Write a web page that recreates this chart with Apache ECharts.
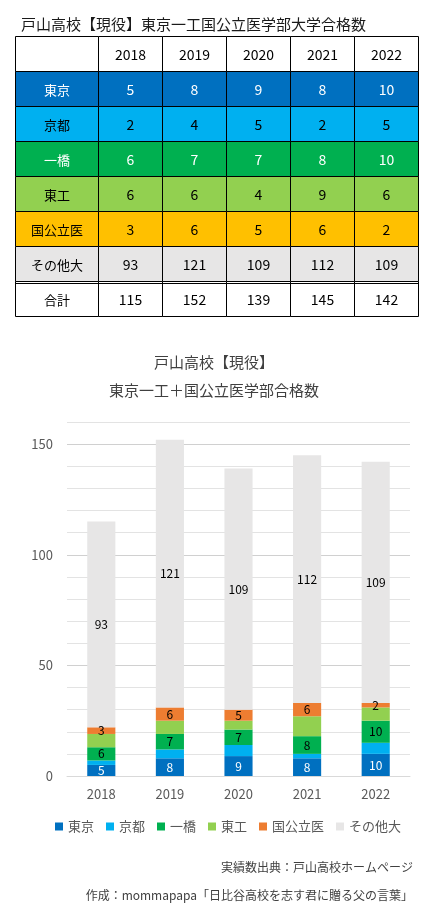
<!DOCTYPE html>
<html>
<head>
<meta charset="utf-8">
<script src="https://cdn.jsdelivr.net/npm/echarts@6/dist/echarts.min.js"></script>
<style>
html,body{margin:0;padding:0;background:#fff;}
#c{width:430px;height:917px;}
</style>
</head>
<body>
<div id="c"></div>
<script>
// ---- data ----
const years = ['2018', '2019', '2020', '2021', '2022'];
const rowNames = ['東京', '京都', '一橋', '東工', '国公立医', 'その他大'];
const tokyo = [5, 8, 9, 8, 10];
const kyoto = [2, 4, 5, 2, 5];
const hitotsubashi = [6, 7, 7, 8, 10];
const tokodai = [6, 6, 4, 9, 6];
const medical = [3, 6, 5, 6, 2];
const others = [93, 121, 109, 112, 109];
const totals = [115, 152, 139, 145, 142];
const totalLabel = '合計';
const yTicks = [0, 50, 100, 150];

const seriesValues = [tokyo, kyoto, hitotsubashi, tokodai, medical, others];
const chartColors = ['#0070C0', '#00B0F0', '#00B050', '#92D050', '#ED7D31', '#E7E6E6'];
const tableFill = ['#0070C0', '#00B0F0', '#00B050', '#92D050', '#FFC000', '#E7E6E6'];
const tableText = ['#ffffff', '#000000', '#ffffff', '#000000', '#000000', '#000000'];
const labelShown = [true, false, true, false, true, true];
const labelColor = ['#ffffff', '#000', '#000', '#000', '#000', '#000'];

const FONT = '"Noto Sans CJK JP", "Noto Sans", sans-serif';

// table rows: 0 header, 1..6 series, 7 total
const tableRows = ['', ...rowNames, totalLabel];
const tableData = [];
for (let r = 0; r < tableRows.length; r++) {
  for (let c = 0; c < years.length; c++) tableData.push([c, r]);
}
function cellText(c, r) {
  if (r === 0) return years[c];
  if (r === tableRows.length - 1) return String(totals[c]);
  return String(seriesValues[r - 1][c]);
}
const LABEL_W = 83;

function renderCell(params, api) {
  const c = api.value(0), r = api.value(1);
  const ctr = api.coord([c, r]);
  const sz = api.size([1, 1]);
  const w = sz[0], h = sz[1];
  const x0 = Math.round(ctr[0] - w / 2) + 0.5;
  const y0 = Math.round(ctr[1] - h / 2) + 0.5;
  const ww = Math.round(w), hh = Math.round(h);
  const isSeries = r >= 1 && r <= rowNames.length;
  const fill = isSeries ? tableFill[r - 1] : '#ffffff';
  const tcol = isSeries ? tableText[r - 1] : '#000000';
  const cs = params.coordSys;
  const children = [
    { type: 'rect', shape: { x: x0, y: y0, width: ww, height: hh },
      style: { fill: fill, stroke: '#000', lineWidth: 1 } },
    { type: 'text', x: x0 + ww / 2, y: y0 + hh / 2 + 1,
      style: { text: cellText(c, r), fill: tcol, font: '14px ' + FONT, align: 'center', verticalAlign: 'middle' } }
  ];
  if (c === 0) {
    const lx = Math.round(cs.x - LABEL_W) + 0.5;
    children.push({ type: 'rect', shape: { x: lx, y: y0, width: Math.round(LABEL_W), height: hh },
      style: { fill: fill, stroke: '#000', lineWidth: 1 } });
    children.push({ type: 'text', x: lx + LABEL_W / 2, y: y0 + hh / 2 + 1,
      style: { text: tableRows[r], fill: tcol, font: '13px ' + FONT, align: 'center', verticalAlign: 'middle' } });
  }
  if (r === tableRows.length - 1) {
    const lx = c === 0 ? Math.round(cs.x - LABEL_W) : x0;
    children.push({ type: 'line', shape: { x1: lx, y1: y0 + 2, x2: x0 + ww, y2: y0 + 2 },
      style: { stroke: '#000', lineWidth: 1 } });
  }
  return { type: 'group', children: children };
}

const barSeries = rowNames.map((name, i) => ({
  name: name,
  type: 'bar',
  stack: 'total',
  xAxisIndex: 1,
  yAxisIndex: 1,
  barWidth: '41%',
  data: seriesValues[i],
  itemStyle: { color: chartColors[i] },
  label: {
    show: labelShown[i],
    position: 'inside',
    color: labelColor[i],
    fontSize: 12,
    fontFamily: FONT
  },
  emphasis: { disabled: true }
}));

const chart = echarts.init(document.getElementById('c'), null, { renderer: 'canvas' });
chart.setOption({
  animation: false,
  backgroundColor: '#ffffff',
  textStyle: { fontFamily: FONT },
  title: [
    { text: '戸山高校【現役】東京一工国公立医学部大学合格数', left: 16, top: 12,
      textStyle: { fontSize: 15, fontWeight: 'normal', color: '#1a1a1a', fontFamily: FONT } },
    { text: '戸山高校【現役】\n東京一工＋国公立医学部合格数', left: 209, top: 343, textAlign: 'center',
      textStyle: { fontSize: 15, fontWeight: 'normal', color: '#404040', lineHeight: 28, fontFamily: FONT } },
    { text: '実績数出典：戸山高校ホームページ', right: 12, top: 856,
      textStyle: { fontSize: 12, fontWeight: 'normal', color: '#404040', fontFamily: FONT } },
    { text: '作成：mommapapa「日比谷高校を志す君に贈る父の言葉」', right: 12, top: 884,
      textStyle: { fontSize: 12, fontWeight: 'normal', color: '#404040', fontFamily: FONT } }
  ],
  legend: {
    data: rowNames,
    left: 50,
    top: 815,
    icon: 'rect',
    itemWidth: 8,
    itemHeight: 8,
    itemGap: 12,
    textStyle: { fontSize: 13, color: '#595959', fontFamily: FONT },
    selectedMode: false
  },
  grid: [
    { left: 98, right: 12, top: 36, height: 280 },
    { left: 67, right: 20, top: 422, bottom: 141 }
  ],
  xAxis: [
    { type: 'category', gridIndex: 0, data: years, show: false },
    { type: 'category', gridIndex: 1, data: years,
      axisLine: { lineStyle: { color: '#d9d9d9' } },
      axisTick: { show: false },
      axisLabel: { color: '#595959', fontSize: 13, margin: 12, fontFamily: FONT } }
  ],
  yAxis: [
    { type: 'category', gridIndex: 0, data: tableRows, inverse: true, show: false },
    { type: 'value', gridIndex: 1, min: 0, max: 160, interval: 10,
      axisLine: { show: false }, axisTick: { show: false },
      axisLabel: { color: '#595959', fontSize: 13, margin: 14, fontFamily: FONT,
        formatter: v => (yTicks.indexOf(v) >= 0 ? String(v) : '') },
      splitLine: { lineStyle: { color: ['#d0d0d0', '#e3e3e3', '#e3e3e3', '#e3e3e3', '#e3e3e3'], width: 1 } } }
  ],
  series: [
    { type: 'custom', xAxisIndex: 0, yAxisIndex: 0, data: tableData, renderItem: renderCell, silent: true, z: 1 },
    ...barSeries
  ]
});
</script>
</body>
</html>
